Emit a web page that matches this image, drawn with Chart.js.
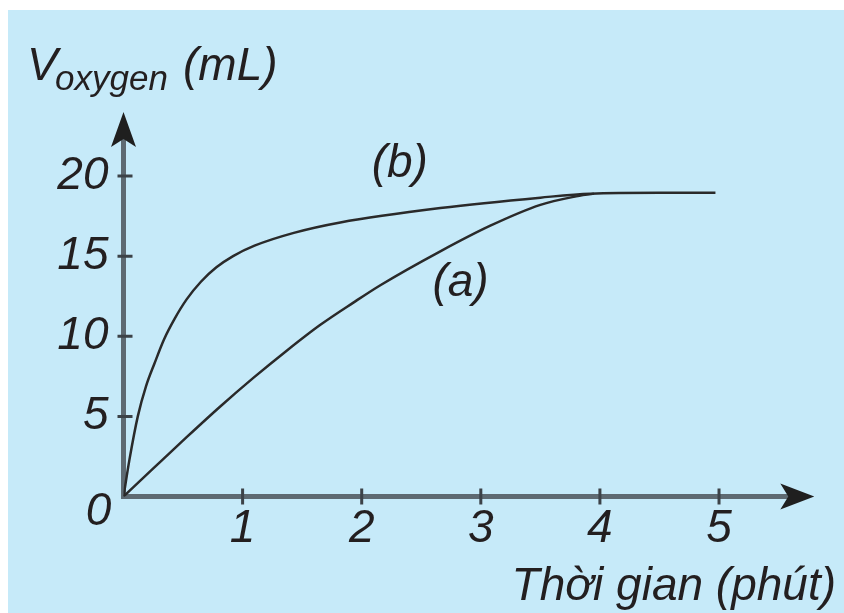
<!DOCTYPE html>
<html>
<head>
<meta charset="utf-8">
<script src="https://cdn.jsdelivr.net/npm/chart.js@4"></script>
<style>
  html, body { margin: 0; padding: 0; background: #fff; }
  #wrap { position: relative; width: 844px; height: 613px; overflow: hidden; }
  #bg { position: absolute; left: 8px; top: 10px; right: 0; bottom: 0; background: rgb(198, 234, 249); }
  canvas { position: absolute; left: 0; top: 0; }
</style>
</head>
<body>
<div id="wrap"><div id="bg"></div><canvas id="c" width="844" height="613"></canvas></div>
<script>
// curve (a)
const timeA = [0, 0.25, 0.53, 0.81, 1.09, 1.37, 1.65, 1.93, 2.16, 2.66, 3.08, 3.5, 3.78, 3.95];
const volA  = [0, 1.75, 3.7, 5.6, 7.4, 9.1, 10.7, 12.1, 13.2, 15.3, 16.9, 18.2, 18.7, 18.9];
// curve (b)
const timeB = [0, 0.05, 0.12, 0.19, 0.26, 0.34, 0.43, 0.53, 0.65, 0.78, 0.92, 1.1, 1.43, 1.82, 2.66, 3.5, 3.92, 4.5, 4.97];
const volB  = [0, 2.3, 5.0, 6.9, 8.3, 9.8, 11.1, 12.3, 13.4, 14.3, 15.0, 15.65, 16.45, 17.1, 18.0, 18.65, 18.9, 18.95, 18.95];

const xTitle = "Thời gian (phút)";
const yTitle = ["V", "oxygen", "(mL)"];

const FONT = "'Liberation Sans', Arial, sans-serif";
const INK = "#231f20";

function pts(xs, ys) {
  return xs.map((v, i) => ({ x: v, y: ys[i] }));
}

const axesPlugin = {
  id: "axes",
  beforeDatasetsDraw(chart) {
    const { ctx, scales: { x, y } } = chart;
    const x0 = x.getPixelForValue(0), y0 = y.getPixelForValue(0);
    const xEnd = x.getPixelForValue(x.max), yEnd = y.getPixelForValue(y.max);
    ctx.save();
    // axis lines
    ctx.strokeStyle = "#5e6a72";
    ctx.lineWidth = 5;
    ctx.beginPath();
    ctx.moveTo(x0 - 2.5, y0); ctx.lineTo(xEnd - 24, y0);
    ctx.moveTo(x0, y0 + 2.5); ctx.lineTo(x0, yEnd + 26);
    ctx.stroke();
    // tick marks
    ctx.strokeStyle = "#3c4248";
    ctx.lineWidth = 3;
    ctx.beginPath();
    y.ticks.forEach(t => {
      if (t.value === 0) return;
      const p = y.getPixelForValue(t.value);
      ctx.moveTo(x0 - 6, p); ctx.lineTo(x0 + 9, p);
    });
    x.ticks.forEach(t => {
      if (t.value === 0) return;
      const p = x.getPixelForValue(t.value);
      ctx.moveTo(p, y0 - 8); ctx.lineTo(p, y0 + 8);
    });
    ctx.stroke();
    // arrow heads
    ctx.fillStyle = "#1f1f1f";
    ctx.beginPath();
    ctx.moveTo(x0, yEnd);
    ctx.lineTo(x0 + 12.5, yEnd + 35);
    ctx.lineTo(x0, yEnd + 27);
    ctx.lineTo(x0 - 12.5, yEnd + 35);
    ctx.closePath();
    ctx.fill();
    ctx.beginPath();
    ctx.moveTo(xEnd, y0);
    ctx.lineTo(xEnd - 34, y0 - 13);
    ctx.lineTo(xEnd - 26, y0);
    ctx.lineTo(xEnd - 34, y0 + 13);
    ctx.closePath();
    ctx.fill();
    ctx.restore();
  },
  afterDraw(chart) {
    const { ctx, scales: { x, y } } = chart;
    const x0 = x.getPixelForValue(0), y0 = y.getPixelForValue(0);
    ctx.save();
    ctx.fillStyle = INK;
    ctx.font = "italic 46px " + FONT;
    // origin label
    ctx.textAlign = "center";
    ctx.textBaseline = "middle";
    ctx.fillText("0", x0 - 25, y0 + 16);
    // curve labels
    ctx.textBaseline = "alphabetic";
    ctx.fillText("(b)", x.getPixelForValue(2.32), y.getPixelForValue(19.95));
    ctx.fillText("(a)", x.getPixelForValue(2.83), y.getPixelForValue(12.5));
    // x title
    ctx.textAlign = "right";
    ctx.fillText(xTitle, 836, 600);
    // y title with subscript
    ctx.textAlign = "left";
    ctx.fillText(yTitle[0], 27, 80);
    ctx.font = "italic 35px " + FONT;
    ctx.fillText(yTitle[1], 55, 90);
    ctx.font = "italic 46px " + FONT;
    ctx.fillText(yTitle[2], 183, 80);
    ctx.restore();
  }
};

const lineStyle = {
  borderColor: "#2a2a2a",
  borderWidth: 2.5,
  pointRadius: 0,
  showLine: true,
  fill: false,
  cubicInterpolationMode: "monotone"
};

new Chart(document.getElementById("c"), {
  type: "scatter",
  data: {
    datasets: [
      Object.assign({ label: "(a)", data: pts(timeA, volA) }, lineStyle),
      Object.assign({ label: "(b)", data: pts(timeB, volB) }, lineStyle)
    ]
  },
  options: {
    responsive: false,
    animation: false,
    layout: { padding: { left: 0, right: 29.7, top: 111.9, bottom: 0 } },
    plugins: { legend: { display: false }, tooltip: { enabled: false } },
    scales: {
      x: {
        type: "linear",
        min: 0,
        max: 5.8,
        border: { display: false },
        grid: { display: false, drawTicks: false },
        ticks: {
          stepSize: 1,
          includeBounds: false,
          padding: 5,
          color: INK,
          font: { family: FONT, size: 46, style: "italic" },
          callback: v => (v === 0 ? "" : v)
        },
        afterFit(scale) { scale.height = 116.5; }
      },
      y: {
        type: "linear",
        min: 0,
        max: 24,
        border: { display: false },
        grid: { display: false, drawTicks: false },
        ticks: {
          stepSize: 5,
          includeBounds: false,
          padding: 15,
          color: INK,
          font: { family: FONT, size: 46, style: "italic" },
          callback: v => (v === 0 ? "" : v)
        },
        afterFit(scale) { scale.width = 123.5; }
      }
    }
  },
  plugins: [axesPlugin]
});
</script>
</body>
</html>
